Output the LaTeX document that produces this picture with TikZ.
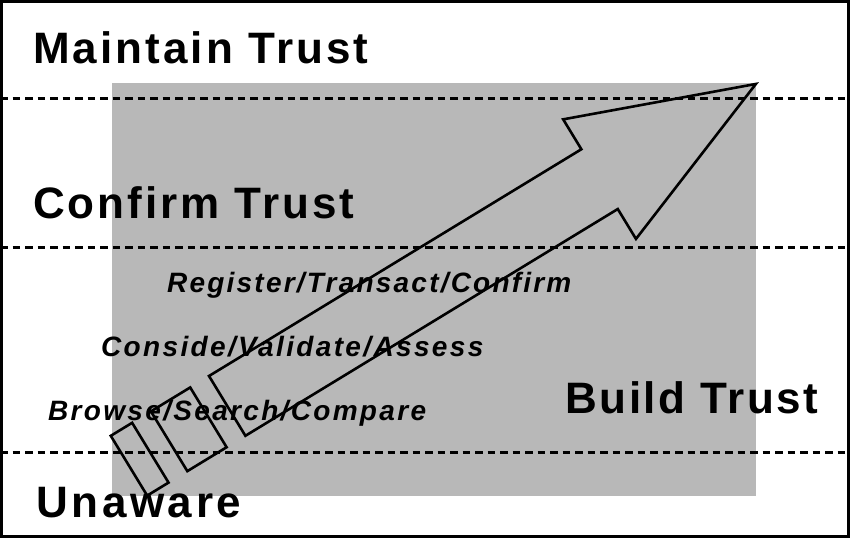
\documentclass[tikz,border=0pt]{standalone}
\usepackage{fontspec}
\setmainfont{Liberation Sans}
\newfontfamily\headfont{Liberation Sans}
\definecolor{panel}{RGB}{184,184,184}
\newcommand{\track}[1]{\addfontfeature{LetterSpace=#1}}
\begin{document}
\begin{tikzpicture}[x=1pt,y=1pt,
  stage/.style={anchor=base west, inner sep=0pt, font=\headfont\bfseries\fontsize{44}{44}\selectfont},
  activity/.style={anchor=base west, inner sep=0pt, font=\headfont\bfseries\itshape\fontsize{28}{28}\selectfont},
  level/.style={line width=3pt, dash pattern=on 7.5pt off 5pt},
  outline/.style={draw=black, line width=2.6pt, line join=miter, miter limit=10}]
\useasboundingbox (0,0) rectangle (850,-538);
% grey panel
\fill[panel] (112,-83) rectangle (756,-496);
% level lines
\coordinate (l1a) at (0,-98);  \coordinate (l1b) at (850,-98);
\coordinate (l2a) at (0,-247); \coordinate (l2b) at (850,-247);
\coordinate (l3a) at (0,-452); \coordinate (l3b) at (850,-452);
\draw[level] (l1a) -- (l1b);
\draw[level] (l2a) -- (l2b);
\draw[level] (l3a) -- (l3b);
% arrow with two segments at its tail
\begin{scope}[shift={(209,-376)}, rotate=31.34]
  \draw[outline] (0,0) -- (436,0) -- (436,35) -- (619,-35) -- (436,-105) -- (436,-70) -- (0,-70) -- cycle;
  \draw[outline] (-68,0) -- (-22,0) -- (-22,-70) -- (-68,-70) -- cycle;
  \draw[outline] (-115,0) -- (-90,0) -- (-90,-70) -- (-115,-70) -- cycle;
\end{scope}
% stage labels
\node[stage] (maintain) at (33,-63) {\track{7.0}Maintain Trust};
\node[stage] (confirm) at (33,-218) {\track{6.8}Confirm Trust};
\node[stage] (build) at (565,-413) {\track{5.9}Build Trust};
\node[stage] (unaware) at (36,-517) {\track{8.2}Unaware};
% activity labels
\node[activity] (register) at (167,-292) {\track{7.9}Register/Transact/Confirm};
\node[activity] (conside) at (101,-356) {\track{8.4}Conside/Validate/Assess};
\node[activity] (browse) at (48,-420) {\track{8.3}Browse/Search/Compare};
% frame
\draw[line width=2.8pt] (1.4,-1.4) rectangle (848.6,-536.6);
\end{tikzpicture}
\end{document}
